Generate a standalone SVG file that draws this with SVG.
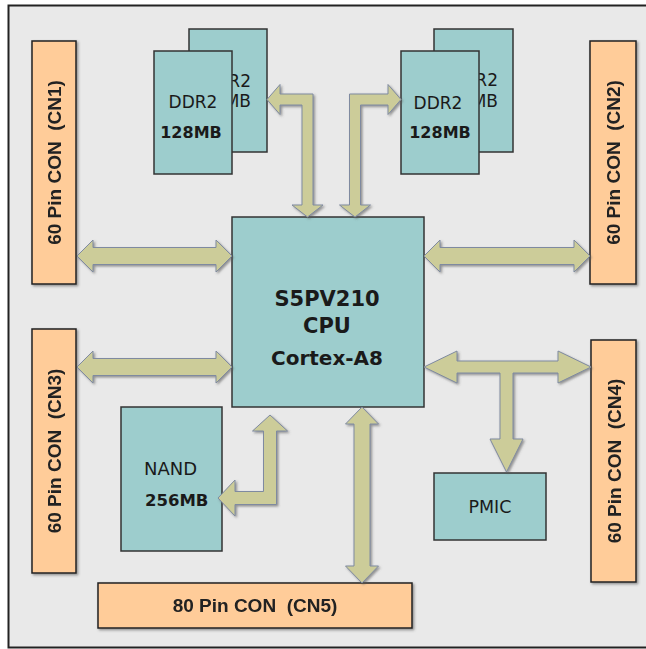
<svg xmlns="http://www.w3.org/2000/svg" width="646" height="649" viewBox="0 0 646 649">
<defs>
<filter id="sh" x="-10%" y="-10%" width="130%" height="130%">
<feDropShadow dx="1.5" dy="1.5" stdDeviation="0.8" flood-color="#555" flood-opacity="0.6"/>
</filter>
<style>
.chip{fill:#9dcdcd;stroke:#333;stroke-width:1.5}
.con{fill:#ffcc99;stroke:#222;stroke-width:1.5}
.arr{fill:#cccc99;stroke:#7f8aa0;stroke-width:1}
.lbl{font-family:"Liberation Sans",Arial,sans-serif;font-weight:bold;font-size:19px;fill:#222;text-anchor:middle;white-space:pre}
.t{font-family:"DejaVu Sans",sans-serif;fill:#1a1a1a;text-anchor:middle}
.s{text-anchor:start}
.e{text-anchor:end}
.b{font-weight:bold}
</style>
</defs>
<rect x="0" y="0" width="646" height="649" fill="#ffffff"/>
<rect x="8.5" y="5.5" width="660" height="642" fill="#e9e9e9" stroke="#222" stroke-width="2"/>

<g id="cn1" filter="url(#sh)">
<rect class="con" x="32" y="41" width="44" height="243"/>
<text class="lbl" xml:space="preserve" transform="translate(54,162.5) rotate(-90)" x="0" y="7">60 Pin CON  (CN1)</text>
</g>
<g id="cn2" filter="url(#sh)">
<rect class="con" x="590" y="41" width="46" height="243"/>
<text class="lbl" xml:space="preserve" transform="translate(613,162.5) rotate(-90)" x="0" y="7">60 Pin CON  (CN2)</text>
</g>
<g id="cn3" filter="url(#sh)">
<rect class="con" x="32" y="329" width="44" height="244"/>
<text class="lbl" xml:space="preserve" transform="translate(54,451) rotate(-90)" x="0" y="7">60 Pin CON  (CN3)</text>
</g>
<g id="cn4" filter="url(#sh)">
<rect class="con" x="591" y="340" width="45" height="242"/>
<text class="lbl" xml:space="preserve" transform="translate(613.5,461) rotate(-90)" x="0" y="7">60 Pin CON  (CN4)</text>
</g>
<g id="cn5" filter="url(#sh)">
<rect class="con" x="98" y="583" width="314" height="45"/>
<text class="lbl" xml:space="preserve" x="255" y="612">80 Pin CON  (CN5)</text>
</g>

<g id="ddr2-left-back">
<rect class="chip" x="189" y="29" width="78" height="123"/>
<text class="t e" x="251" y="87" font-size="17">R2</text>
<text class="t e" x="251" y="107" font-size="17">MB</text>
</g>
<g id="ddr2-left">
<rect class="chip" x="154" y="51" width="78" height="123"/>
<text class="t" x="193" y="108" font-size="17">DDR2</text>
<text class="t b" x="191" y="138" font-size="16">128MB</text>
</g>
<g id="ddr2-right-back">
<rect class="chip" x="434" y="29" width="79" height="123"/>
<text class="t e" x="498" y="86" font-size="17">R2</text>
<text class="t e" x="498" y="107" font-size="17">MB</text>
</g>
<g id="ddr2-right">
<rect class="chip" x="401" y="51" width="78" height="123"/>
<text class="t" x="438" y="109" font-size="17">DDR2</text>
<text class="t b" x="440" y="138" font-size="16">128MB</text>
</g>

<g id="cpu">
<rect class="chip" x="232" y="217" width="192" height="190"/>
<text class="t b" x="327" y="306" font-size="21">S5PV210</text>
<text class="t b" x="327" y="333" font-size="21">CPU</text>
<text class="t b" x="327" y="365" font-size="20">Cortex-A8</text>
</g>

<g id="nand">
<rect class="chip" x="121" y="407" width="101" height="144"/>
<text class="t s" x="144" y="475" font-size="18">NAND</text>
<text class="t b s" x="145" y="506" font-size="16.5">256MB</text>
</g>

<g id="pmic">
<rect class="chip" x="434" y="473" width="112" height="67"/>
<text class="t" x="490" y="513" font-size="17.5">PMIC</text>
</g>

<g id="connectors" filter="url(#sh)">
<path class="arr" d="M77,256 L93,240 L93,247.5 L216,247.5 L216,240 L232,256 L216,272 L216,264.5 L93,264.5 L93,272 Z"/>
<path class="arr" d="M77,367 L93,351 L93,358.5 L216,358.5 L216,351 L232,367 L216,383 L216,375.5 L93,375.5 L93,383 Z"/>
<path class="arr" d="M424,256 L440,240 L440,247.5 L574,247.5 L574,240 L590,256 L574,272 L574,264.5 L440,264.5 L440,272 Z"/>
<path class="arr" d="M424,367 L457,351 L457,361 L558,361 L558,351 L591,367 L558,383 L558,373 L513,373 L513,439 L523,439 L506.5,472 L490,439 L500,439 L500,373 L457,373 L457,383 Z"/>
<path class="arr" d="M362,407 L378.5,424 L370,424 L370,566 L378.5,566 L362,583 L345.5,566 L354,566 L354,424 L345.5,424 Z"/>
<path class="arr" d="M267,99.5 L280,84.5 L280,94 L313,94 L313,205 L323,205 L307.5,217 L292,205 L302,205 L302,105 L280,105 L280,114.5 Z"/>
<path class="arr" d="M401,99.5 L388,84.5 L388,94 L349.5,94 L349.5,205 L339.5,205 L355,217 L370.5,205 L360.5,205 L360.5,105 L388,105 L388,114.5 Z"/>
<path class="arr" d="M270,415 L287.5,431 L276.5,431 L276.5,504.5 L235,504.5 L235,516 L218,498 L235,480 L235,491.5 L263.5,491.5 L263.5,431 L252.5,431 Z"/>
</g>
</svg>
